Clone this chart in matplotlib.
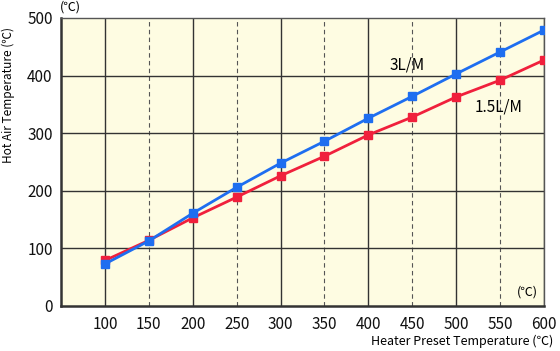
import matplotlib
matplotlib.use("Agg")
import matplotlib.pyplot as plt

plt.rcParams['font.family'] = ['Noto Sans CJK JP', 'DejaVu Sans']

preset = [100, 150, 200, 250, 300, 350, 400, 450, 500, 550, 600]
flow_3 = [73, 113, 161, 206, 248, 286, 326, 364, 403, 441, 479]
flow_15 = [79, 114, 153, 189, 226, 260, 297, 328, 363, 392, 427]
x_ticks = [100, 150, 200, 250, 300, 350, 400, 450, 500, 550, 600]
y_ticks = [0, 100, 200, 300, 400, 500]

fig = plt.figure(figsize=(5.6, 3.51), dpi=100)
ax = fig.add_axes([61/560, 1-306/351, (544-61)/560, (306-18)/351])
ax.set_facecolor('#FEFCE2')
ax.set_xlim(50, 600)
ax.set_ylim(0, 500)

for x in x_ticks:
    if x % 100 == 0:
        ax.axvline(x, color='#333333', lw=1.0, zorder=1)
    else:
        ax.axvline(x, color='#555555', lw=0.8, ls=(0, (4, 3)), zorder=1)
for y in y_ticks[1:-1]:
    ax.axhline(y, color='#333333', lw=1.0, zorder=1)

ax.plot(preset, flow_15, color='#F0203C', lw=2, marker='s', ms=5.5, zorder=3)
ax.plot(preset, flow_3, color='#1E6EF0', lw=2, marker='s', ms=5.5, zorder=4)

for s in ['left', 'bottom']:
    ax.spines[s].set_color('#333333')
    ax.spines[s].set_linewidth(1.8)
for s in ['top', 'right']:
    ax.spines[s].set_color('#555555')
    ax.spines[s].set_linewidth(1.0)

ax.set_xticks(x_ticks)
ax.set_yticks(y_ticks)
ax.tick_params(length=0, labelsize=11, pad=6, colors='#111111')
ax.tick_params(axis='x', pad=7)

fig.text(407/560, 1-65/351, '3L/M', fontsize=11, ha='center', va='center')
fig.text(499/560, 1-107/351, '1.5L/M', fontsize=11, ha='center', va='center')

fig.text(70/560, 1-7/351, '(℃)', fontsize=9, ha='center', va='center')
fig.text(527/560, 1-292/351, '(℃)', fontsize=9, ha='center', va='center')
fig.text(553/560, 1-341/351, 'Heater Preset Temperature (℃)', fontsize=9, ha='right', va='center')
fig.text(8/560, 1-95/351, 'Hot Air Temperature (℃)', fontsize=8.5, ha='center', va='center', rotation=90)

fig.savefig('out.png', dpi=100)
